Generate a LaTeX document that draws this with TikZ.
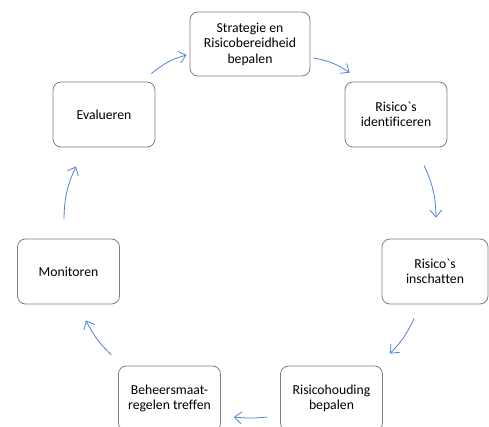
\documentclass[tikz,border=0pt]{standalone}
\usepackage{fontspec}
\newfontfamily\boxfont{Carlito}[Ligatures=NoCommon]
\usetikzlibrary{arrows.meta}
\definecolor{flowblue}{HTML}{5082D8}
\definecolor{boxgrey}{HTML}{7F7F7F}
\tikzstyle{phase} = [rectangle, 
rounded corners=8pt, 
minimum width=102pt, 
minimum height=65pt, 
text centered, align=center, 
draw=boxgrey, line width=0.8pt, 
font=\boxfont\fontsize{13.7}{15.5}\selectfont]
\tikzstyle{flow} = [-{Straight Barb[length=7pt,width=12pt]}, draw=flowblue, line width=0.8pt]

\begin{document}
\begin{tikzpicture}[x=1pt, y=-1pt, node distance=157pt]
\useasboundingbox (0,0) rectangle (489,427);
\clip (0,0) rectangle (489,427);

\node (strat) [phase, minimum width=120pt, minimum height=64pt] at (250,44) {Strategie en\\Risicobereidheid\\bepalen};
\node (ident) [phase, right of=strat, xshift=-11pt, yshift=-70.5pt] {Risico\char96 s\\identificeren};
\node (insch) [phase, minimum width=106pt, below of=ident, xshift=39pt] {Risico\char96 s\\inschatten};
\node (houd) [phase, below of=insch, xshift=-103.5pt, yshift=30pt] {Risicohouding\\bepalen};
\node (beh) [phase, left of=houd, xshift=-5pt] {Beheersmaat-\\regelen treffen};
\node (mon) [phase, above of=beh, xshift=-101pt, yshift=-30pt] {Monitoren};
\node (eval) [phase, above of=mon, xshift=35.5pt] {Evalueren};

\draw[flow] ([xshift=-4pt,yshift=8pt]eval.north east) to[bend left=12] ([xshift=-3pt,yshift=-11pt]strat.west);
\draw[flow] ([xshift=3pt,yshift=-14pt]strat.east) to[bend left=12] ([xshift=5pt,yshift=9pt]ident.north west);
\draw[flow] ([xshift=28pt,yshift=-18pt]ident.south) to[bend left=12] ([xshift=1pt,yshift=21pt]insch.north);
\draw[flow] ([xshift=-21pt,yshift=-14pt]insch.south) to[bend left=10] ([xshift=7pt,yshift=12pt]houd.north east);
\draw[flow] ([xshift=-13pt,yshift=-18.5pt]houd.west) to[bend left=6] ([xshift=13pt,yshift=-18.5pt]beh.east);
\draw[flow] ([xshift=-7pt,yshift=11pt]beh.north west) to[bend left=10] ([xshift=17.5pt,yshift=-16pt]mon.south);
\draw[flow] ([xshift=-4.5pt,yshift=19pt]mon.north) to[bend left=12] ([xshift=-28pt,yshift=-19pt]eval.south);

\end{tikzpicture}
\end{document}
